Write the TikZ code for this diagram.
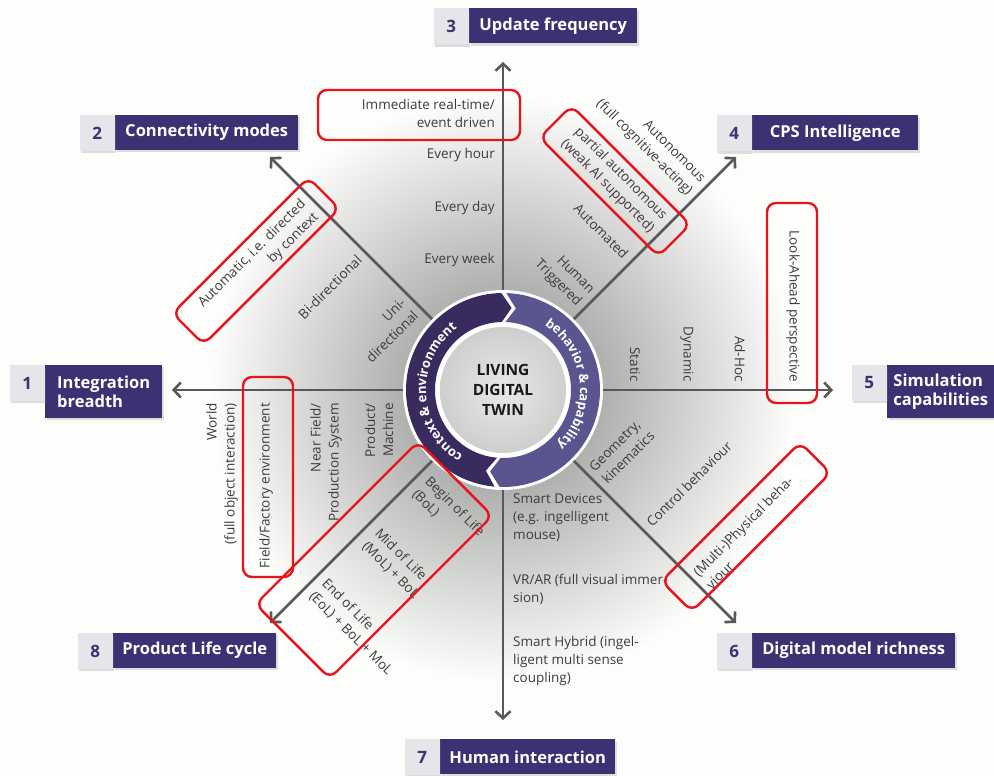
\documentclass[tikz,border=0pt]{standalone}
\usepackage{fontspec}
\setmainfont{Open Sans}
\usetikzlibrary{arrows.meta,positioning,shadows,decorations.text}
\definecolor{tagpurple}{HTML}{3B3274}
\definecolor{taggrey}{HTML}{E7E5E9}
\definecolor{ringdark}{HTML}{3A2B5F}
\definecolor{ringlight}{HTML}{5A558E}
\definecolor{axisgrey}{HTML}{58585A}
\definecolor{labelgrey}{HTML}{3C3C3C}
\definecolor{markred}{HTML}{E8141B}
\definecolor{paper}{HTML}{FDFDFB}

\begin{document}
\begin{tikzpicture}[x=1pt, y=1pt,
        axis/.style={draw=axisgrey, line width=2.6pt, -{Straight Barb[length=7pt, width=15pt]}},
        lab/.style={text=labelgrey, font=\fontsize{13.5}{18}\selectfont, inner sep=1pt},
        tagbox/.style={fill=tagpurple, text=white, font=\fontsize{16.5}{19}\selectfont\bfseries,
            align=left, anchor=west, minimum height=35pt, inner sep=0pt,
            drop shadow={shadow xshift=1.5pt, shadow yshift=-2.5pt, opacity=0.25}},
        numbox/.style={fill=taggrey, text=tagpurple, font=\fontsize{17}{19}\selectfont\bfseries,
            anchor=north east, minimum width=35pt, minimum height=36pt, inner sep=0pt,
            drop shadow={shadow xshift=1.5pt, shadow yshift=-2.5pt, opacity=0.25}},
        redbox/.style={draw=markred, line width=2.4pt, rounded corners=9pt, inner sep=0pt}
    ]
        \useasboundingbox (0, 0) rectangle (994, 776);
        \fill[paper] (0, 0) rectangle (994, 776);

        \coordinate (c) at (503, 386);
        % soft halo
        \foreach \r in {100, 105, ..., 290} {
            \fill[black, opacity=0.006] (c) circle (\r);
        }

        % axes
        \coordinate (a1) at (172, 386);
        \coordinate (a2) at (270, 619);
        \coordinate (a3) at (503, 714);
        \coordinate (a4) at (736, 619);
        \coordinate (a5) at (833, 386);
        \coordinate (a6) at (736, 153);
        \coordinate (a7) at (503, 56);
        \coordinate (a8) at (270, 153);
        \foreach \k in {1,...,8} {
            \draw[axis] (c) -- (a\k);
        }

        % ring
        \fill[white] (c) circle (100);
        \begin{scope}[shift={(c)}]
            \fill[ringdark] (91:97) arc[start angle=91, end angle=265, radius=97] -- (258:82.5)
                -- (265:68) arc[start angle=265, end angle=91, radius=68] -- (84:82.5) -- cycle;
            \fill[ringlight] (88:97) arc[start angle=88, end angle=-92, radius=97] -- (-99:82.5)
                -- (-92:68) arc[start angle=-92, end angle=88, radius=68] -- (81:82.5) -- cycle;
        \end{scope}
        \node[circle, minimum size=126pt, inner sep=0pt, shading=radial, inner color=black!9,
            outer color=black!19, align=center, text=black!90,
            font=\fontsize{15.5}{20}\selectfont\bfseries] (twin) at (c) {LIVING\\DIGITAL\\TWIN};
        \path[decorate, decoration={text along path, text align=center,
            text={|\fontsize{13}{15}\selectfont\bfseries\color{white}|context {\&} environment}}]
            ([shift={(250:77)}]c) arc[start angle=250, end angle=115, radius=77];
        \path[decorate, decoration={text along path, text align=center,
            text={|\fontsize{13}{15}\selectfont\bfseries\color{white}|behavior {\&} capability}}]
            ([shift={(70:77)}]c) arc[start angle=70, end angle=-58, radius=77];

        % 3 update frequency
        \node[lab, anchor=east, align=right] (u1) at (496, 663) {Immediate real-time/\\event driven};
        \node[lab, anchor=east] (u2) at (496, 621) {Every hour};
        \node[lab, anchor=east] (u3) at (496, 568) {Every day};
        \node[lab, anchor=east] (u4) at (496, 516) {Every week};

        % 7 human interaction
        \node[lab, anchor=west, align=left] (h1) at (512, 258) {Smart Devices\\(e.g. ingelligent\\mouse)};
        \node[lab, anchor=west, align=left] (h2) at (512, 187) {VR/AR (full visual immer-\\sion)};
        \node[lab, anchor=west, align=left] (h3) at (512, 115) {Smart Hybrid (ingel-\\ligent multi sense\\coupling)};

        % 1 integration breadth
        \node[lab, rotate=90, anchor=east, align=right] (w1) at (222, 374) {World\\(full object interaction)};
        \node[lab, rotate=90, anchor=east] (w2) at (266, 374) {Field/Factory environment};
        \node[lab, rotate=90, anchor=east, align=right] (w3) at (326, 374) {Near Field/\\Production System};
        \node[lab, rotate=90, anchor=east, align=right] (w4) at (379, 374) {Product/\\Machine};

        % 5 simulation capabilities
        \node[lab, rotate=-90, anchor=east] (s1) at (635, 393) {Static};
        \node[lab, rotate=-90, anchor=east] (s2) at (687, 393) {Dynamic};
        \node[lab, rotate=-90, anchor=east] (s3) at (740, 393) {Ad-Hoc};
        \node[lab, rotate=-90, anchor=east] (s4) at (793, 393) {Look-Ahead perspective};

        % 2 connectivity modes
        \node[lab, rotate=45, anchor=east, align=right] (m1) at (410, 470) {Uni-\\directional};
        \node[lab, rotate=45, anchor=east] (m2) at (360, 519) {Bi-directional};
        \node[lab, rotate=45, anchor=east, align=right] (m3) at (311, 568) {Automatic, i.e. directed\\by context};

        % 4 cps intelligence
        \node[lab, rotate=-45, anchor=east, align=right] (i1) at (586, 477) {Human\\Triggered};
        \node[lab, rotate=-45, anchor=east] (i2) at (627, 519) {Automated};
        \node[lab, rotate=-45, anchor=east, align=right] (i3) at (659, 551) {partial autonomous\\(weak AI supported)};
        \node[lab, rotate=-45, anchor=east, align=right] (i4) at (697, 588) {Autonomous\\(full cognitive-acting)};

        % 6 digital model richness
        \node[lab, rotate=45, anchor=west, align=left] (g1) at (597, 300) {Geometry,\\kinematics};
        \node[lab, rotate=45, anchor=west] (g2) at (648, 251) {Control behaviour};
        \node[lab, rotate=45, anchor=west, align=left] (g3) at (701, 195) {(Multi-)Physical beha-\\viour};

        % 8 product life cycle
        \node[lab, rotate=-45, anchor=west, align=left] (b1) at (420, 291) {Begin of Life\\(BoL)};
        \node[lab, rotate=-45, anchor=west, align=left] (b2) at (370, 239) {Mid of Life\\(MoL) + BoL};
        \node[lab, rotate=-45, anchor=west, align=left] (b3) at (317, 189) {End of Life\\(EoL) + BoL + MoL};

        % red marks
        \node[redbox, minimum width=202pt, minimum height=50pt] (r3) at (419, 661) {};
        \node[redbox, minimum width=50pt, minimum height=200pt] (r1) at (268, 299) {};
        \node[redbox, minimum width=50pt, minimum height=200pt] (r5) at (792, 473) {};
        \node[redbox, rotate=45, minimum width=192pt, minimum height=44pt] (r2) at (256, 515) {};
        \node[redbox, rotate=-45, minimum width=168pt, minimum height=45pt] (r4) at (615, 595) {};
        \node[redbox, rotate=45, minimum width=196pt, minimum height=43pt] (r6) at (746, 249) {};
        \node[redbox, rotate=45, minimum width=230pt, minimum height=105pt] (r8) at (374, 216) {};

        % tags
        \node[tagbox, minimum width=168pt] (t3) at (469, 750) {Update frequency};
        \node[tagbox, minimum width=183pt] (t2) at (115, 643.5) {Connectivity modes};
        \node[tagbox, minimum width=166pt] (t4) at (752, 643) {CPS Intelligence};
        \node[tagbox, minimum width=107pt, minimum height=53pt] (t5) at (887, 384.5) {Simulation\\capabilities};
        \node[tagbox, minimum width=203pt] (t6) at (752, 125.5) {Digital model richness};
        \node[tagbox, minimum width=175pt] (t7) at (440, 19) {Human interaction};
        \node[tagbox, minimum width=163pt] (t8) at (113, 125.5) {Product Life cycle};
        \node[tagbox, minimum width=117pt, minimum height=53pt] (t1) at (45, 384.5) {Integration\\breadth};
        \foreach \k in {1,...,8} {
            \node[numbox] (n\k) at (t\k.north west) {\k};
        }
\end{tikzpicture}
\end{document}
